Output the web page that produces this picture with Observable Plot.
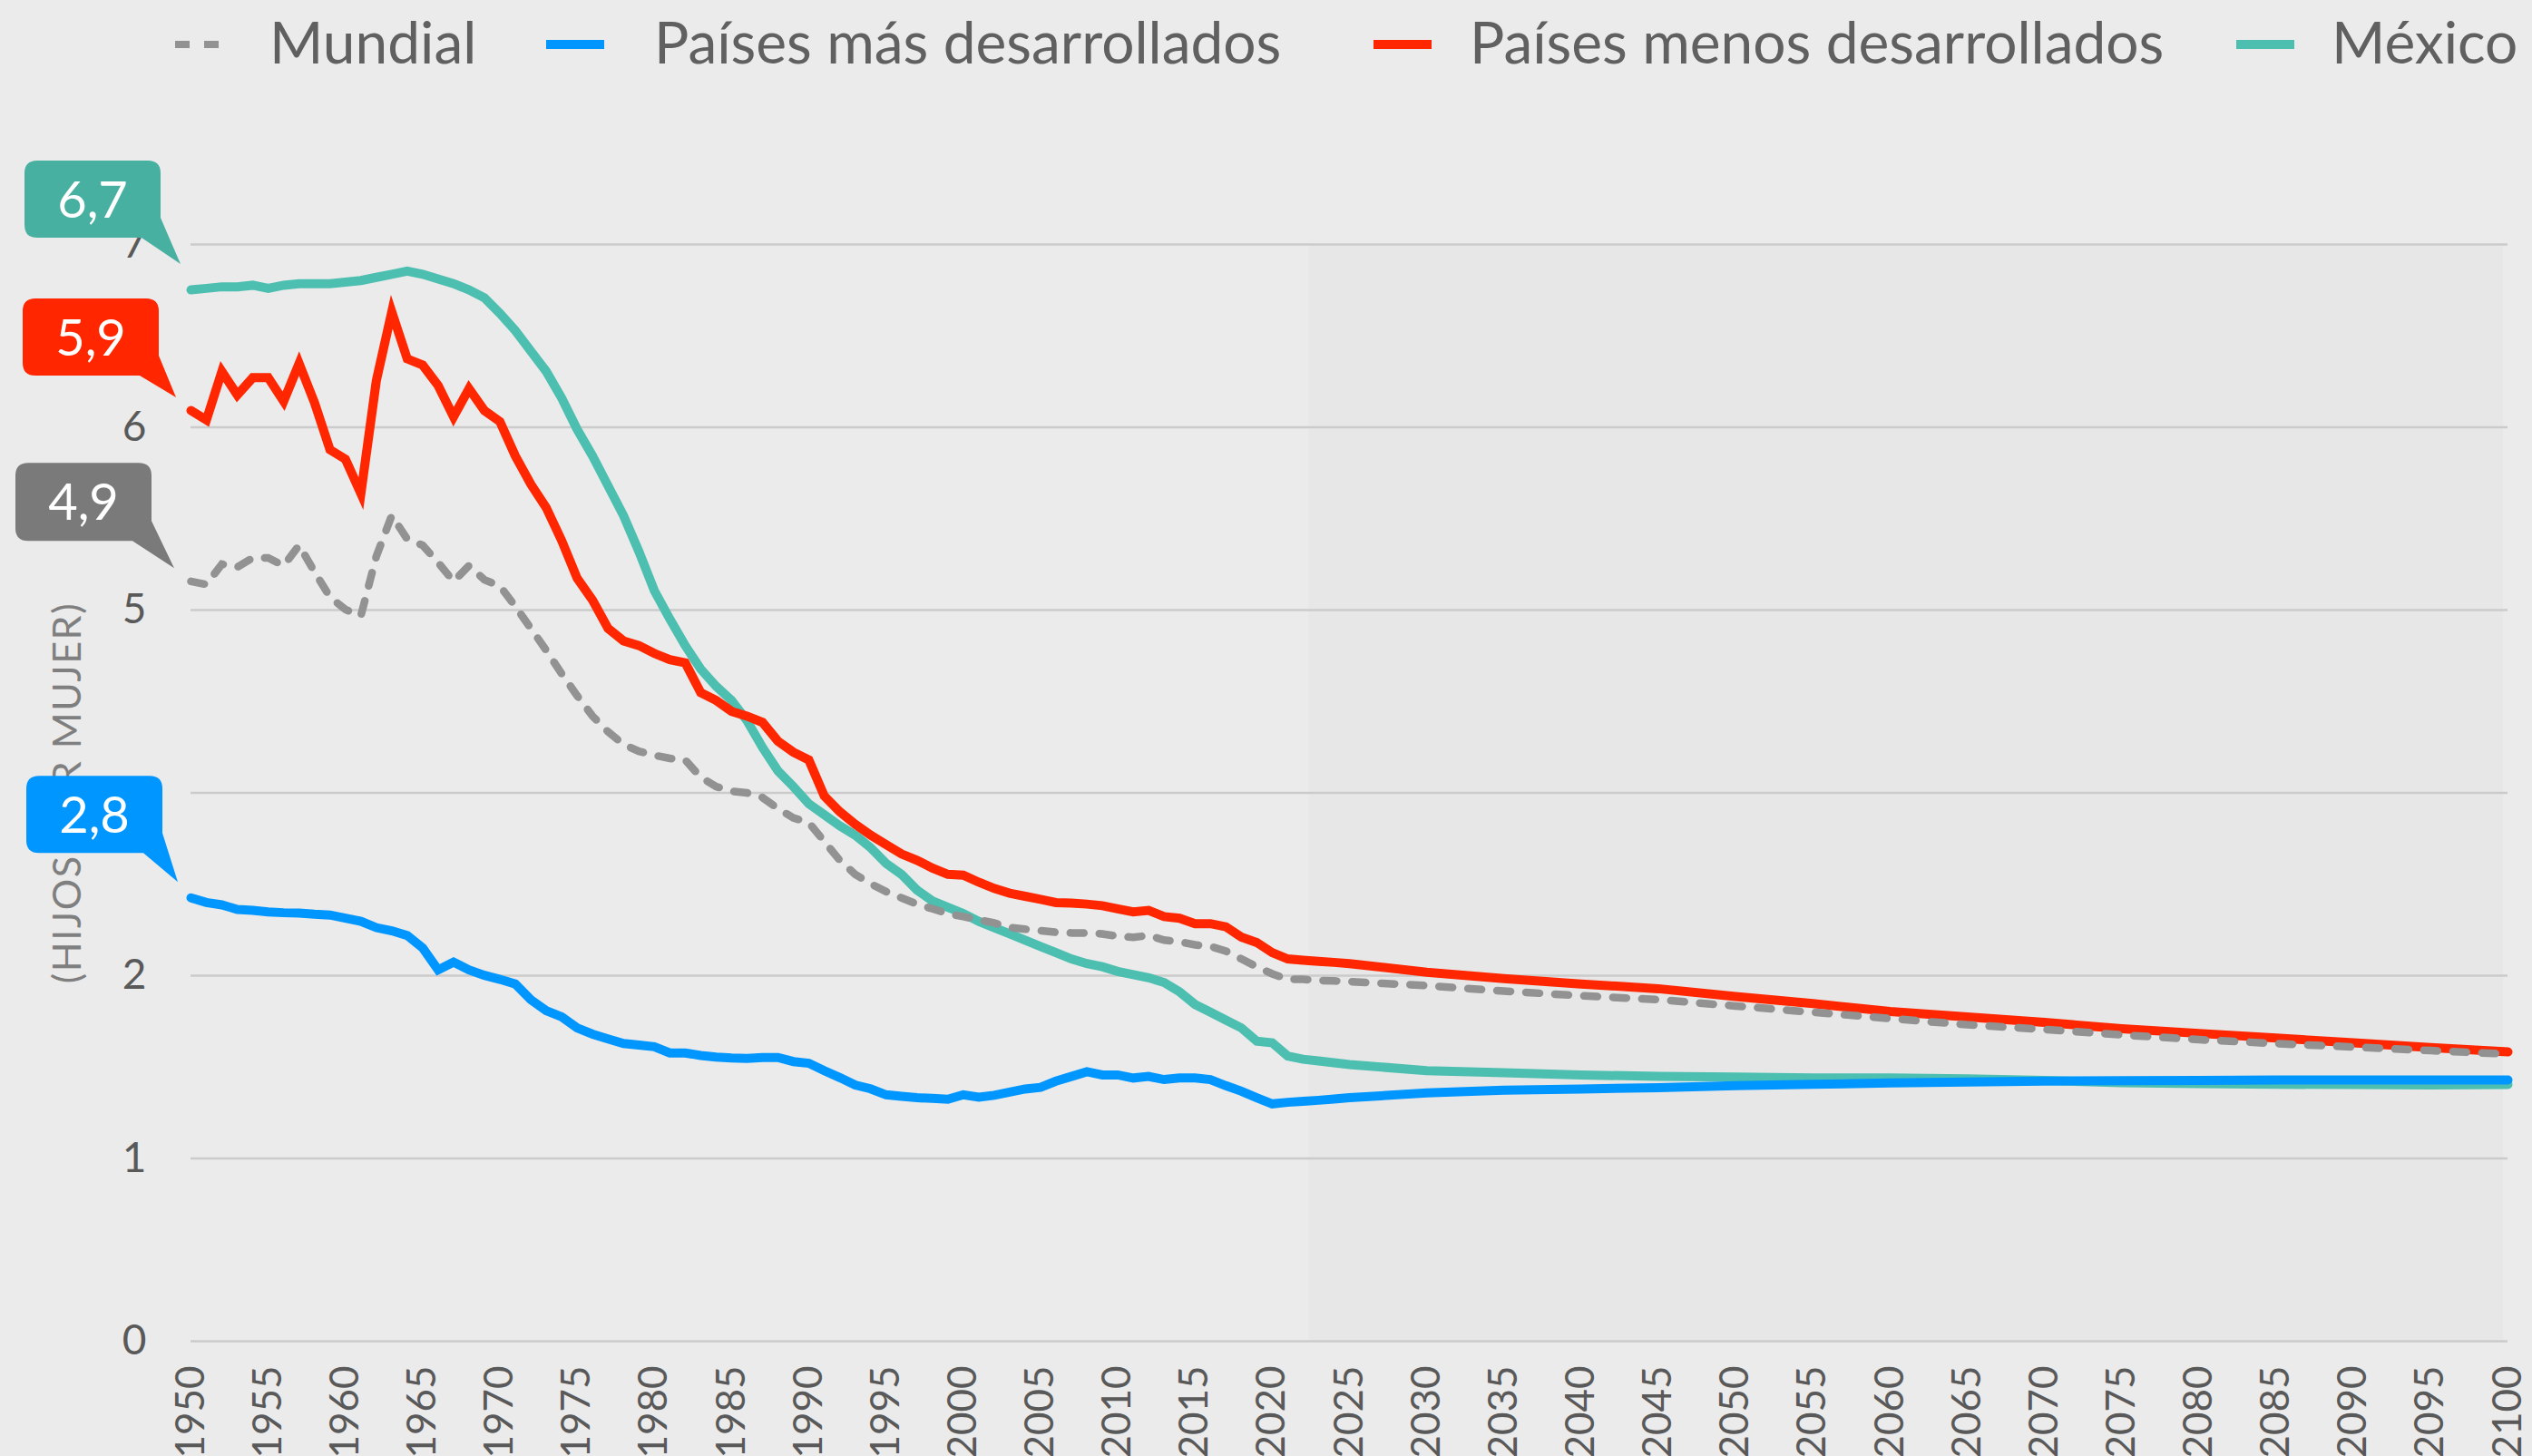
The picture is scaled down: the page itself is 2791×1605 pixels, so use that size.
<!DOCTYPE html>
<html>
<head>
<meta charset="utf-8">
<script src="https://cdn.jsdelivr.net/npm/d3@7"></script>
<script src="https://cdn.jsdelivr.net/npm/@observablehq/plot@0.6"></script>
<style>
  html, body { margin: 0; padding: 0; background: #ebebeb; }
  body { width: 2791px; height: 1605px; overflow: hidden; font-family: Lato, "Open Sans", sans-serif; }
  #legend, #chart { display: block; }
</style>
</head>
<body>
<div id="legend"></div>
<div id="chart"></div>
<script>
// ---------------- DATA ----------------
const years = [
  1950,1951,1952,1953,1954,1955,1956,1957,1958,1959,
  1960,1961,1962,1963,1964,1965,1966,1967,1968,1969,
  1970,1971,1972,1973,1974,1975,1976,1977,1978,1979,
  1980,1981,1982,1983,1984,1985,1986,1987,1988,1989,
  1990,1991,1992,1993,1994,1995,1996,1997,1998,1999,
  2000,2001,2002,2003,2004,2005,2006,2007,2008,2009,
  2010,2011,2012,2013,2014,2015,2016,2017,2018,2019,
  2020,2021,2022,2023,2024,2025,
  2030,2035,2040,2045,2050,2055,2060,2065,2070,2075,2080,2085,2090,2095,2100
];
const mundial = [
  4.85,4.83,4.96,4.94,5.00,5.00,4.95,5.08,4.91,4.75,
  4.67,4.63,5.01,5.27,5.12,5.08,4.97,4.85,4.95,4.86,
  4.82,4.69,4.55,4.41,4.26,4.12,3.99,3.89,3.81,3.765,
  3.74,3.72,3.71,3.60,3.54,3.51,3.50,3.47,3.40,3.34,
  3.31,3.19,3.07,2.98,2.92,2.87,2.83,2.79,2.76,2.73,
  2.71,2.69,2.67,2.64,2.63,2.62,2.61,2.606,2.606,2.60,
  2.585,2.578,2.59,2.56,2.55,2.53,2.52,2.49,2.44,2.39,
  2.345,2.31,2.31,2.303,2.30,2.295,
  2.27,2.235,2.205,2.18,2.14,2.10,2.06,2.02,1.99,1.955,1.925,1.90,1.878,1.855,1.833
];
const masDesarrollados = [
  2.83,2.80,2.785,2.756,2.75,2.74,2.735,2.733,2.725,2.72,
  2.70,2.68,2.64,2.62,2.59,2.51,2.37,2.42,2.37,2.335,
  2.31,2.28,2.18,2.11,2.07,2.00,1.96,1.93,1.90,1.89,
  1.88,1.84,1.84,1.824,1.814,1.808,1.805,1.811,1.811,1.785,
  1.774,1.727,1.683,1.635,1.611,1.573,1.563,1.554,1.55,1.544,
  1.573,1.558,1.57,1.59,1.61,1.62,1.66,1.69,1.72,1.70,
  1.70,1.68,1.69,1.67,1.68,1.68,1.67,1.631,1.596,1.554,
  1.515,1.525,1.531,1.538,1.546,1.554,
  1.585,1.602,1.61,1.618,1.631,1.64,1.648,1.655,1.66,1.663,1.665,1.667,1.668,1.668,1.668
];
const menosDesarrollados = [
  5.94,5.88,6.19,6.04,6.15,6.15,6.00,6.24,5.99,5.69,
  5.63,5.41,6.13,6.57,6.27,6.23,6.10,5.90,6.08,5.94,
  5.87,5.65,5.47,5.32,5.11,4.87,4.73,4.55,4.47,4.44,
  4.39,4.35,4.33,4.14,4.09,4.02,3.99,3.95,3.83,3.76,
  3.71,3.48,3.38,3.30,3.23,3.17,3.11,3.07,3.02,2.98,
  2.975,2.93,2.89,2.86,2.84,2.82,2.80,2.796,2.79,2.78,
  2.76,2.74,2.75,2.71,2.70,2.665,2.665,2.645,2.58,2.545,
  2.48,2.44,2.432,2.424,2.418,2.41,
  2.355,2.315,2.28,2.25,2.20,2.155,2.105,2.07,2.035,1.995,1.965,1.935,1.905,1.875,1.847
];
const mexico = [
  6.71,6.72,6.73,6.73,6.74,6.72,6.74,6.75,6.75,6.75,
  6.76,6.77,6.79,6.81,6.83,6.81,6.78,6.75,6.71,6.66,
  6.56,6.45,6.32,6.19,6.02,5.82,5.65,5.46,5.27,5.04,
  4.79,4.61,4.44,4.29,4.18,4.09,3.96,3.79,3.64,3.54,
  3.43,3.36,3.29,3.23,3.15,3.05,2.98,2.88,2.81,2.77,
  2.73,2.68,2.64,2.60,2.56,2.52,2.48,2.44,2.41,2.39,
  2.36,2.34,2.32,2.29,2.23,2.15,2.10,2.05,2.00,1.915,
  1.905,1.82,1.80,1.789,1.777,1.766,
  1.727,1.714,1.70,1.69,1.687,1.68,1.68,1.675,1.665,1.65,1.645,1.64,1.638,1.636,1.638
];
const seriesNames = ["Mundial", "Países más desarrollados", "Países menos desarrollados", "México"];
const calloutLabels = ["4,9", "2,8", "5,9", "6,7"];
const xTicks = [1950,1955,1960,1965,1970,1975,1980,1985,1990,1995,2000,2005,2010,2015,2020,2025,2030,2035,2040,2045,2050,2055,2060,2065,2070,2075,2080,2085,2090,2095,2100];
const yTicks = [0, 1.1667, 2.3333, 3.5, 4.6667, 5.8333, 7];
const yTitle = "(HIJOS POR MUJER)";
const projection = [{start: 2022.4, end: 2099.7}];

// ---------------- STYLE ----------------
const colors = ["#929292", "#0096ff", "#ff2600", "#4cbfb0"];
const calloutColors = ["#7a7a7a", "#0096ff", "#ff2600", "#48b0a1"];
const FONT = "Lato, 'Open Sans', sans-serif";
// callout geometry, in pixels relative to the first point of each line
const calloutGeom = [
  {tip: [-18, -14], L: -193, R: -43, T: -130, B: -44},   // Mundial
  {tip: [-14, -17], L: -181, R: -31, T: -134, B: -49},   // más desarrollados
  {tip: [-16, -14], L: -185, R: -35, T: -123, B: -38},   // menos desarrollados
  {tip: [-11, -28], L: -183, R: -33, T: -142, B: -57}    // México
];

const seriesValues = [mundial, masDesarrollados, menosDesarrollados, mexico];
const rows = [];
seriesValues.forEach((vals, s) => vals.forEach((v, i) => rows.push({series: seriesNames[s], year: years[i], value: v})));
const bySeries = name => rows.filter(d => d.series === name);

// ---------------- LEGEND ----------------
const legendH = 110;
const legend = d3.select("#legend").append("svg").attr("width", 2791).attr("height", legendH)
  .style("font-family", FONT);
const legendPos = [{sw: 193, tx: 297}, {sw: 602, tx: 721}, {sw: 1514, tx: 1620}, {sw: 2465, tx: 2570}];
seriesNames.forEach((name, i) => {
  const p = legendPos[i];
  legend.append("line")
    .attr("x1", p.sw).attr("x2", p.sw + 49 + (i === 0 ? 0 : 15)).attr("y1", 49).attr("y2", 49)
    .attr("stroke", colors[i]).attr("stroke-width", i === 0 ? 8 : 10)
    .attr("stroke-dasharray", i === 0 ? "16,16" : null);
  legend.append("text").attr("x", p.tx).attr("y", 70).attr("font-size", 64).attr("fill", "#606060").text(name);
});

// ---------------- PLOT ----------------
const lineOpts = (i) => ({x: "year", y: "value", stroke: colors[i], strokeWidth: 10, strokeLinejoin: "miter", strokeMiterlimit: 6});
const plot = Plot.plot({
  width: 2791,
  height: 1605 - legendH,
  marginLeft: 210, marginRight: 27, marginTop: 156, marginBottom: 130,
  x: {domain: [1950, 2100]},
  y: {domain: [0, 7]},
  style: {background: "transparent", fontFamily: FONT, fontSize: "45px", color: "#595959"},
  marks: [
    Plot.rect(projection, {x1: "start", x2: "end", y1: 0, y2: 7, fill: "#e7e7e7"}),
    Plot.gridY(yTicks, {stroke: "#cbcbcb", strokeOpacity: 1, strokeWidth: 2.5}),
    Plot.axisY({ticks: yTicks, tickFormat: d3.format(".0f"), tickSize: 0, tickPadding: 49, fontSize: 46, label: null}),
    Plot.axisX({ticks: xTicks, tickFormat: d3.format("d"), tickSize: 0, tickPadding: 27, tickRotate: -90, fontSize: 44, label: null}),
    Plot.text([yTitle], {frameAnchor: "left", textAnchor: "middle", lineAnchor: "middle", rotate: -90, dx: -135, fontSize: 43, fill: "#7f7f7f"}),
    Plot.line(bySeries(seriesNames[3]), lineOpts(3)),
    Plot.line(bySeries(seriesNames[2]), lineOpts(2)),
    Plot.line(bySeries(seriesNames[1]), lineOpts(1)),
    Plot.line(bySeries(seriesNames[0]), {...lineOpts(0), strokeWidth: 8.5, strokeDasharray: "15,17", strokeLinejoin: "miter"})
  ]
});
document.getElementById("chart").appendChild(plot);
d3.select(plot).selectAll("text").filter(function() { return this.textContent === yTitle; })
  .style("letter-spacing", "1.6px");

// ---------------- CALLOUTS (positioned through the plot's scales) ----------------
const xs = plot.scale("x"), ys = plot.scale("y");
const cg = d3.select(plot).append("g").attr("class", "callouts");
[3, 2, 0, 1].forEach(i => {
  const g = calloutGeom[i];
  const ax = xs.apply(years[0]), ay = ys.apply(seriesValues[i][0]);
  const tx = ax + g.tip[0], ty = ay + g.tip[1];
  const L = ax + g.L, R = ax + g.R, T = ay + g.T, B = ay + g.B, r = 14;
  const d = `M${L + r},${T} H${R - r} Q${R},${T} ${R},${T + r} V${B - 22} L${tx},${ty} L${R - 21},${B} H${L + r} Q${L},${B} ${L},${B - r} V${T + r} Q${L},${T} ${L + r},${T} Z`;
  cg.append("path").attr("d", d).attr("fill", calloutColors[i]);
  cg.append("text").attr("x", (L + R) / 2).attr("y", (T + B) / 2).attr("dy", "0.36em")
    .attr("text-anchor", "middle").attr("fill", "#ffffff").attr("font-size", 56)
    .attr("font-family", FONT).text(calloutLabels[i]);
});
</script>
</body>
</html>
